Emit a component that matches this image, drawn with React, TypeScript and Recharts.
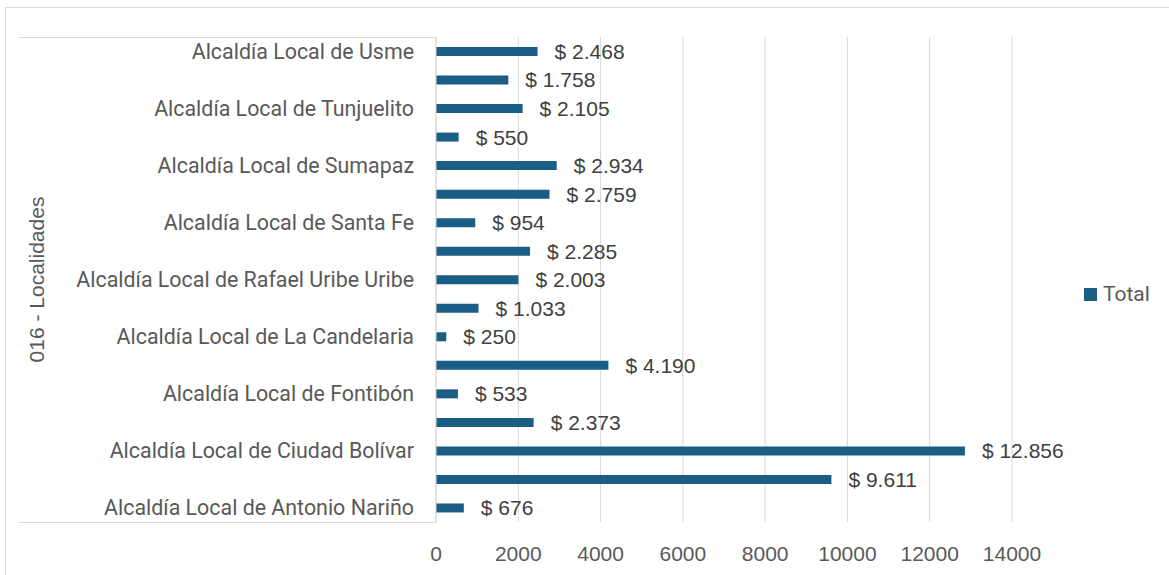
import { BarChart, Bar, XAxis, YAxis, CartesianGrid, Legend, LabelList } from "recharts";

// top to bottom, as drawn (Excel shows only every other category label)
const localidades = [
  "Alcaldía Local de Usme",
  "Alcaldía Local de Usaquén",
  "Alcaldía Local de Tunjuelito",
  "Alcaldía Local de Teusaquillo",
  "Alcaldía Local de Sumapaz",
  "Alcaldía Local de Suba",
  "Alcaldía Local de Santa Fe",
  "Alcaldía Local de San Cristóbal",
  "Alcaldía Local de Rafael Uribe Uribe",
  "Alcaldía Local de Puente Aranda",
  "Alcaldía Local de La Candelaria",
  "Alcaldía Local de Kennedy",
  "Alcaldía Local de Fontibón",
  "Alcaldía Local de Engativá",
  "Alcaldía Local de Ciudad Bolívar",
  "Alcaldía Local de Bosa",
  "Alcaldía Local de Antonio Nariño",
];
const totales = [2468, 1758, 2105, 550, 2934, 2759, 954, 2285, 2003, 1033, 250, 4190, 533, 2373, 12856, 9611, 676];
const xTicks = [0, 2000, 4000, 6000, 8000, 10000, 12000, 14000];

const data = localidades.map((name, i) => ({ name, total: totales[i] }));

const BAR = "#1b5e85";
const GRID = "#d9d9d9";
const TXT = "#595959";

const money = (v: any) => "$ " + String(v).replace(/\B(?=(\d{3})+(?!\d))/g, ".");

function LegendBox() {
  return (
    <div style={{ display: "flex", alignItems: "center", fontFamily: "Roboto", fontSize: 21, color: TXT }}>
      <span style={{ width: 13, height: 13, background: BAR, display: "inline-block", marginRight: 6 }} />
      Total
    </div>
  );
}

export default function App() {
  return (
    <div style={{ position: "absolute", left: 0, top: 0, width: 1169, height: 575, background: "#fff", overflow: "hidden" }}>
      <div style={{ position: "absolute", left: 5, top: 7, width: 1180, height: 600, border: `1px solid ${GRID}` }} />
      <div style={{ position: "absolute", left: 19, top: 37, width: 417, height: 1, background: GRID }} />
      <div style={{ position: "absolute", left: 19, top: 522, width: 417, height: 1, background: GRID }} />
      <BarChart
        width={1169}
        height={575}
        data={data}
        layout="vertical"
        margin={{ top: 37, right: 67, bottom: 0, left: 19 }}
        style={{ position: "absolute", left: 0, top: 0 }}
      >
        <CartesianGrid horizontal={false} stroke={GRID} />
        <XAxis
          type="number"
          domain={[0, 14000]}
          ticks={xTicks}
          height={53}
          axisLine={false}
          tickLine={false}
          tickSize={0}
          tickMargin={24}
          tick={{ fill: TXT, fontSize: 21, fontFamily: "Liberation Sans" }}
        />
        <YAxis
          type="category"
          dataKey="name"
          width={417}
          interval={1}
          axisLine={{ stroke: GRID }}
          tickLine={false}
          tickSize={0}
          tickMargin={22}
          tick={{ fill: TXT, fontSize: 21.4, fontFamily: "Roboto" }}
          label={{
            value: "016 - Localidades",
            angle: -90,
            position: "insideLeft",
            offset: 18,
            style: { textAnchor: "middle", fill: TXT, fontSize: 21, fontFamily: "Liberation Sans" },
          }}
        />
        <Legend
          layout="vertical"
          align="right"
          verticalAlign="middle"
          content={() => <LegendBox />}
          wrapperStyle={{ left: 1084, top: 282, width: 90 }}
        />
        <Bar dataKey="total" name="Total" fill={BAR} barSize={9} isAnimationActive={false}>
          <LabelList
            dataKey="total"
            position="right"
            offset={17}
            formatter={money}
            fill="#404040"
            style={{ fontSize: 21, fontFamily: "Liberation Sans" }}
          />
        </Bar>
      </BarChart>
    </div>
  );
}
